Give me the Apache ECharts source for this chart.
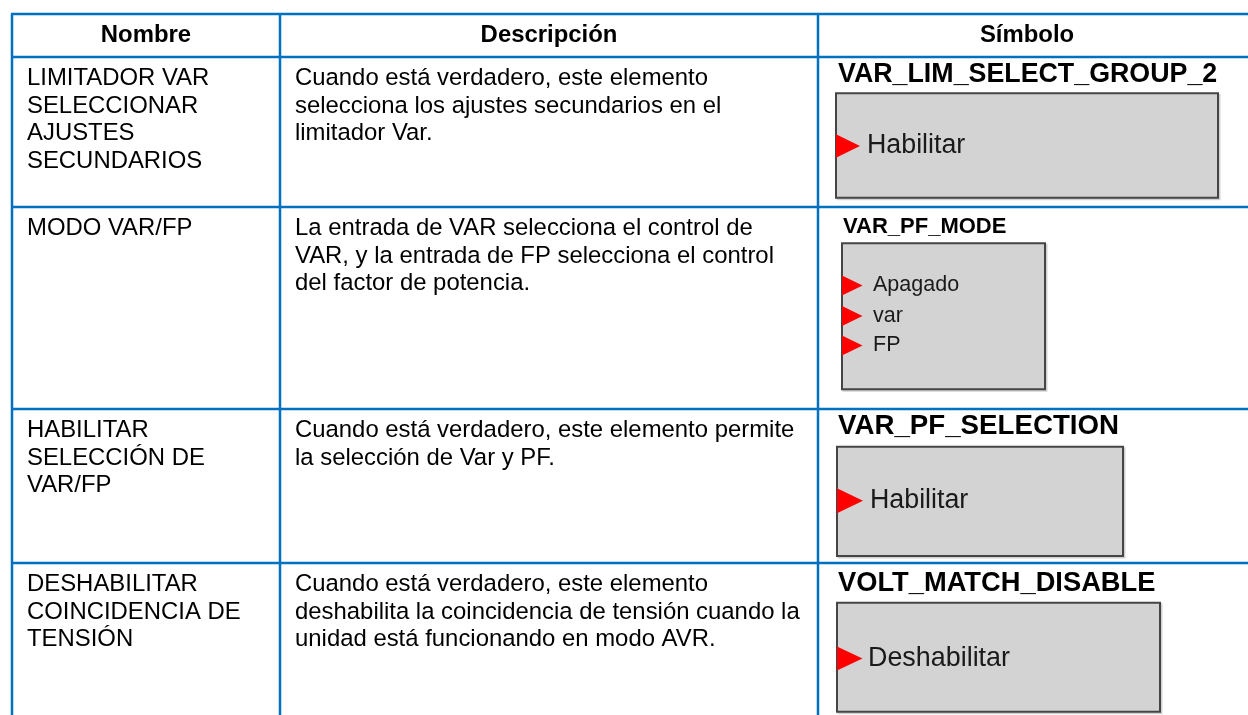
<!DOCTYPE html>
<html>
<head>
<meta charset="utf-8">
<script src="https://cdn.jsdelivr.net/npm/echarts@6/dist/echarts.min.js"></script>
<style>
html,body{margin:0;padding:0;background:#fff;}
#chart{width:1248px;height:715px;}
</style>
</head>
<body>
<div id="chart"></div>
<script>
// ---- data ----
const headers = ['Nombre', 'Descripción', 'Símbolo'];
const names = [
  'LIMITADOR VAR\nSELECCIONAR\nAJUSTES\nSECUNDARIOS',
  'MODO VAR/FP',
  'HABILITAR\nSELECCIÓN DE\nVAR/FP',
  'DESHABILITAR\nCOINCIDENCIA DE\nTENSIÓN'
];
const descriptions = [
  'Cuando está verdadero, este elemento\nselecciona los ajustes secundarios en el\nlimitador Var.',
  'La entrada de VAR selecciona el control de\nVAR, y la entrada de FP selecciona el control\ndel factor de potencia.',
  'Cuando está verdadero, este elemento permite\nla selección de Var y PF.',
  'Cuando está verdadero, este elemento\ndeshabilita la coincidencia de tensión cuando la\nunidad está funcionando en modo AVR.'
];
const symbolTitles = ['VAR_LIM_SELECT_GROUP_2', 'VAR_PF_MODE', 'VAR_PF_SELECTION', 'VOLT_MATCH_DISABLE'];
const symbolInputs = [['Habilitar'], ['Apagado', 'var', 'FP'], ['Habilitar'], ['Deshabilitar']];

// ---- layout (positions / sizes / styles) ----
const colEdges = [12, 280, 818, 1248];
const rowEdges = [14, 57, 207, 409, 563, 715];
const lineColor = '#0070C0';
const textPad = 15;
const firstLineOffset = 21.5;
const bodyFont = 23.9;
const bodyLine = 27.6;
const symLayout = [
  {tx: 838, ty: 74.3, ts: 26.8, box: [836, 93.3, 1218, 197.7], iy: [146], is: 26.8, tip: 860, ix: 867, th: 11.7},
  {tx: 843, ty: 226.7, ts: 22, box: [842, 243.3, 1045, 389.3], iy: [285.5, 316, 345.5], is: 21.5, tip: 862.5, ix: 873, th: 10},
  {tx: 838, ty: 426.3, ts: 27.7, box: [837, 446.7, 1123, 556], iy: [500.8], is: 26.8, tip: 863, ix: 870, th: 12.5},
  {tx: 838, ty: 583, ts: 27.3, box: [837, 602.7, 1160, 711.7], iy: [658.5], is: 26.9, tip: 862.5, ix: 868, th: 12}
];

const FONT = '"Liberation Sans", Arial, sans-serif';
const els = [];

// symbol boxes (drawn first, under grid lines)
symbolTitles.forEach((t, i) => {
  const L = symLayout[i];
  const [x0, y0, x1, y1] = L.box;
  els.push({type: 'rect', shape: {x: x0 + 1.5, y: y0 + 1.5, width: x1 - x0, height: y1 - y0},
    style: {fill: 'rgba(0,0,0,0)', stroke: 'rgba(0,0,0,0.18)', lineWidth: 2}, z: 1});
  els.push({type: 'rect', shape: {x: x0, y: y0, width: x1 - x0, height: y1 - y0},
    style: {fill: '#d3d3d3', stroke: '#454545', lineWidth: 2}, z: 2});
  els.push({type: 'text', style: {text: t, x: L.tx, y: L.ty, font: 'bold ' + L.ts + 'px ' + FONT,
    fill: '#000', textAlign: 'left', textVerticalAlign: 'middle'}, z: 3});
  symbolInputs[i].forEach((inp, k) => {
    const cy = L.iy[k];
    els.push({type: 'polygon', shape: {points: [[x0, cy - L.th], [L.tip, cy], [x0, cy + L.th]]},
      style: {fill: '#ff0000'}, z: 4});
    els.push({type: 'text', style: {text: inp, x: L.ix, y: cy, font: L.is + 'px ' + FONT,
      fill: '#1a1a1a', textAlign: 'left', textVerticalAlign: 'middle'}, z: 4});
  });
});

// headers
headers.forEach((h, c) => {
  els.push({type: 'text', style: {text: h, x: (colEdges[c] + (c === 2 ? 1236 : colEdges[c + 1])) / 2,
    y: (rowEdges[0] + rowEdges[1]) / 2, font: 'bold ' + bodyFont + 'px ' + FONT,
    fill: '#000', textAlign: 'center', textVerticalAlign: 'middle'}, z: 5});
});

// body text
names.forEach((n, r) => {
  const top = rowEdges[r + 1] + firstLineOffset - bodyLine / 2;
  els.push({type: 'text', style: {text: n, x: colEdges[0] + textPad, y: top, font: bodyFont + 'px ' + FONT,
    lineHeight: bodyLine, fill: '#000', textAlign: 'left', textVerticalAlign: 'top'}, z: 5});
  els.push({type: 'text', style: {text: descriptions[r], x: colEdges[1] + textPad, y: top, font: bodyFont + 'px ' + FONT,
    lineHeight: bodyLine, fill: '#000', textAlign: 'left', textVerticalAlign: 'top'}, z: 5});
});

// grid lines
rowEdges.slice(0, 5).forEach(y => {
  els.push({type: 'line', shape: {x1: colEdges[0] - 1, y1: y, x2: 1248, y2: y},
    style: {stroke: lineColor, lineWidth: 2.5}, z: 10});
});
colEdges.slice(0, 3).forEach(x => {
  els.push({type: 'line', shape: {x1: x, y1: rowEdges[0], x2: x, y2: 715},
    style: {stroke: lineColor, lineWidth: 2.5}, z: 10});
});

const chart = echarts.init(document.getElementById('chart'), null, {renderer: 'canvas'});
chart.setOption({
  animation: false,
  backgroundColor: '#ffffff',
  graphic: {elements: els}
});
</script>
</body>
</html>
